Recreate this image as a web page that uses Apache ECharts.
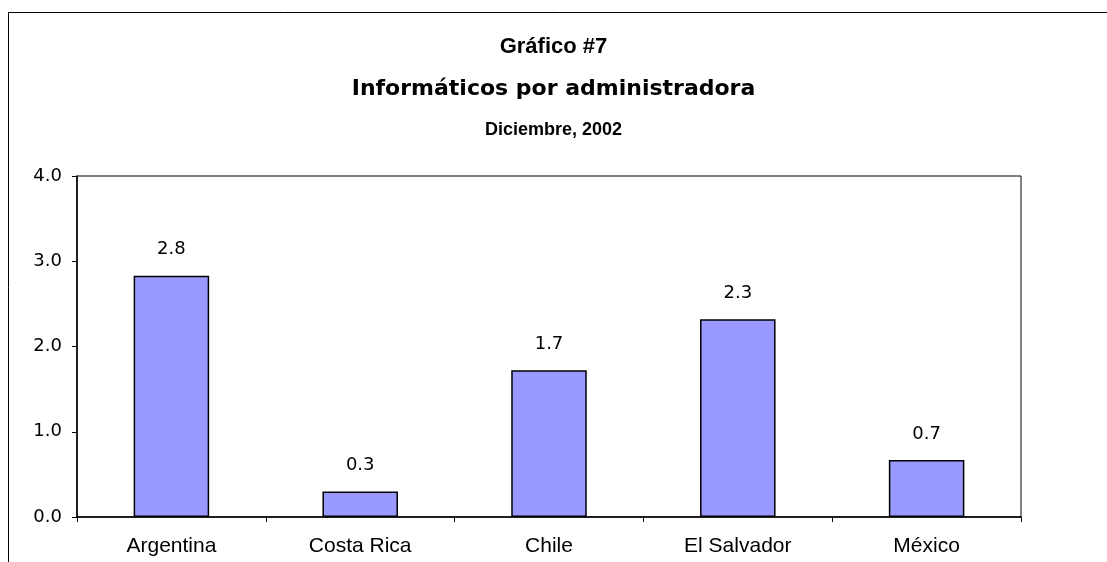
<!DOCTYPE html>
<html>
<head>
<meta charset="utf-8">
<script src="https://cdn.jsdelivr.net/npm/echarts@6/dist/echarts.min.js"></script>
<style>
  html, body { margin: 0; padding: 0; background: #fff; }
  #chart { width: 1107px; height: 562px; }
</style>
</head>
<body>
<div id="chart"></div>
<script>
// Informáticos por administradora, diciembre 2002
const paises = ['Argentina', 'Costa Rica', 'Chile', 'El Salvador', 'México']
const informaticos = [2.83, 0.30, 1.72, 2.32, 0.67]
const yTicks = [0, 1, 2, 3, 4]

const arial = '"Liberation Sans", Arial, sans-serif'
const ancha = '"DejaVu Sans", Verdana, sans-serif'
const chart = echarts.init(document.getElementById('chart'))

chart.setOption({
  backgroundColor: '#fff',
  animation: false,
  title: [
    { text: 'Gráfico #7', left: 'center', top: 31,
      textStyle: { fontFamily: arial, fontSize: 22, fontWeight: 'bold', color: '#000' } },
    { text: 'Informáticos por administradora', left: 'center', top: 73,
      textStyle: { fontFamily: ancha, fontSize: 22, fontWeight: 'bold', color: '#000' } },
    { text: 'Diciembre, 2002', left: 'center', top: 116,
      textStyle: { fontFamily: arial, fontSize: 18, fontWeight: 'bold', color: '#000' } }
  ],
  // marco exterior (solo se ven el borde izquierdo y el superior)
  graphic: [{
    type: 'rect',
    shape: { x: 8.5, y: 12.5, width: 1300, height: 800 },
    style: { fill: null, stroke: '#000', lineWidth: 1 },
    silent: true
  }],
  grid: {
    left: 77, right: 86, top: 176, bottom: 45,
    show: true, borderColor: '#000', borderWidth: 1, backgroundColor: 'transparent'
  },
  xAxis: {
    type: 'category',
    data: paises,
    boundaryGap: true,
    axisLine: { lineStyle: { color: '#000', width: 1.5 } },
    axisTick: { show: true, length: 5, lineStyle: { color: '#000' } },
    axisLabel: { fontFamily: arial, fontSize: 21, color: '#000', margin: 19 }
  },
  yAxis: {
    type: 'value',
    min: yTicks[0],
    max: yTicks[yTicks.length - 1],
    interval: 1,
    axisLine: { show: true, lineStyle: { color: '#000', width: 1.5 } },
    axisTick: { show: true, length: 5, lineStyle: { color: '#000' } },
    splitLine: { show: false },
    axisLabel: {
      fontFamily: ancha, fontSize: 18, color: '#000', margin: 15,
      formatter: v => v.toFixed(1)
    }
  },
  series: [{
    type: 'bar',
    data: informaticos,
    barCategoryGap: '60%',
    itemStyle: { color: '#9999ff', borderColor: '#000', borderWidth: 1.5 },
    label: {
      show: true,
      position: 'top',
      distance: 17,
      fontFamily: ancha, fontSize: 18, color: '#000',
      formatter: p => p.value.toFixed(1)
    }
  }]
})
</script>
</body>
</html>
